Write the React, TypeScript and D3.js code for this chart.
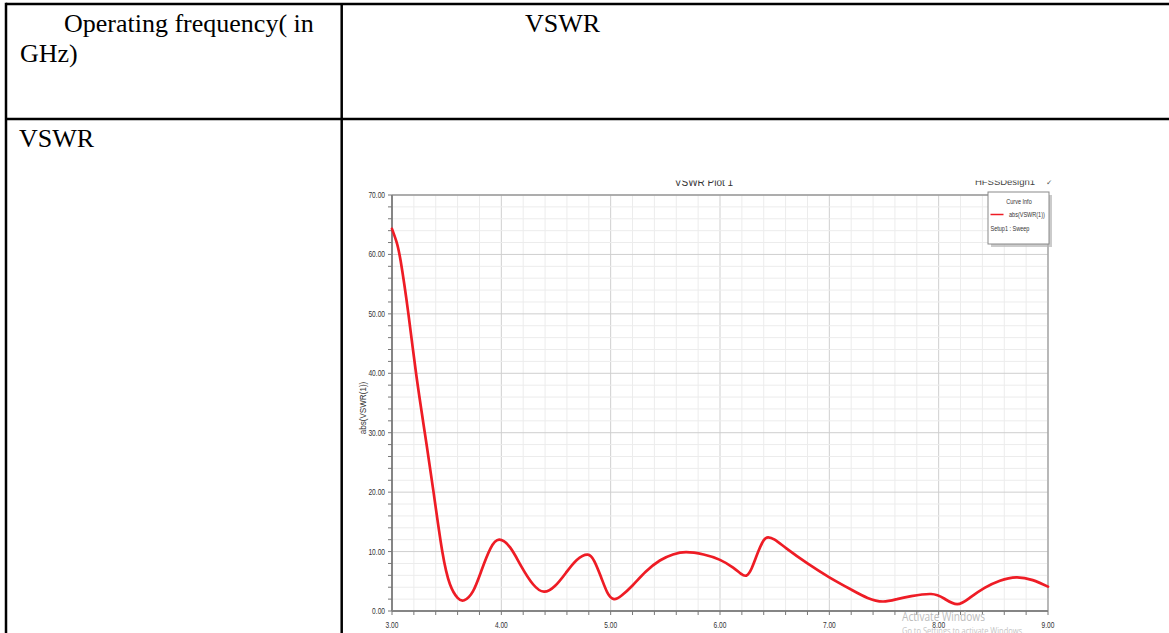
import React from "react";
import * as d3 from "d3";

// VSWR sweep of the antenna (frequency in GHz)
const freqGHz = [
  3.0, 3.04, 3.08, 3.15, 3.22, 3.3, 3.38, 3.46, 3.53, 3.6, 3.66, 3.74, 3.82, 3.9,
  3.98, 4.08, 4.18, 4.29, 4.39, 4.49, 4.59, 4.69, 4.79, 4.85, 4.91, 4.97, 5.03,
  5.1, 5.2, 5.32, 5.45, 5.57, 5.69, 5.85, 6.0, 6.12, 6.19, 6.24, 6.29, 6.35, 6.4,
  6.44, 6.5, 6.61, 6.8, 7.0, 7.2, 7.35, 7.49, 7.62, 7.75, 7.93, 8.05, 8.17, 8.29,
  8.42, 8.56, 8.71, 8.86, 9.0,
];
const vswr = [
  64.3, 62.2, 58.8, 50.0, 40.0, 30.0, 20.0, 10.0, 4.5, 2.2, 1.8, 3.3, 6.9, 10.5,
  12.0, 10.7, 7.6, 4.5, 3.25, 4.2, 6.4, 8.6, 9.5, 8.4, 5.8, 3.1, 2.0, 2.6, 4.3, 6.6,
  8.5, 9.5, 9.9, 9.5, 8.6, 7.3, 6.3, 5.95, 7.2, 10.0, 11.9, 12.4, 12.0, 10.5, 8.0,
  5.67, 3.6, 2.2, 1.6, 2.0, 2.5, 2.86, 2.1, 1.15, 2.3, 3.9, 5.1, 5.67, 5.2, 4.1,
];

const xTickLabels = ["3.00", "4.00", "5.00", "6.00", "7.00", "8.00", "9.00"];
const yTickLabels = ["0.00", "10.00", "20.00", "30.00", "40.00", "50.00", "60.00", "70.00"];

const W = 1169;
const H = 633;
const plot = { left: 392, right: 1048, top: 195, bottom: 611 };

const serif = "'Liberation Serif', 'Times New Roman', serif";
const sans = "'Liberation Sans', Arial, sans-serif";

export default function App() {
  const x = d3.scaleLinear().domain([3, 9]).range([plot.left, plot.right]);
  const y = d3.scaleLinear().domain([0, 70]).range([plot.bottom, plot.top]);

  const xMinor = d3.range(0, 31).map((i) => 3 + i * 0.2);
  const yMinor = d3.range(0, 36).map((i) => i * 2);

  const line = d3
    .line<number>()
    .x((_, i) => x(freqGHz[i]))
    .y((d) => y(d))
    .curve(d3.curveNatural);

  const isMajorX = (v: number) => Math.abs(v - Math.round(v)) < 1e-6;
  const isMajorY = (v: number) => v % 10 === 0;

  return (
    <svg
      width={W}
      height={H}
      style={{ position: "absolute", left: 0, top: 0, background: "#fff" }}
    >
      <defs>
        <clipPath id="chartClip">
          <rect x={343} y={180.5} width={826} height={H - 180.5} />
        </clipPath>
      </defs>

      {/* table frame */}
      <g stroke="#000" strokeWidth={2.5}>
        <line x1={6} y1={4} x2={W} y2={4} />
        <line x1={6} y1={2.8} x2={6} y2={H} />
        <line x1={341.7} y1={4} x2={341.7} y2={H} />
        <line x1={6} y1={119} x2={W} y2={119} />
      </g>
      <g fontFamily={serif} fontSize={26} fill="#000">
        <text x={64} y={32}>Operating frequency( in</text>
        <text x={20} y={62}>GHz)</text>
        <text x={525} y={32}>VSWR</text>
        <text x={19} y={147}>VSWR</text>
      </g>

      <g clipPath="url(#chartClip)">
        {/* title strip */}
        <text x={704} y={186} textAnchor="middle" fontFamily={sans} fontSize={10} fill="#333">
          VSWR Plot 1
        </text>
        <text x={1005} y={184.8} textAnchor="middle" fontFamily={sans} fontSize={9.5} fill="#444">
          HFSSDesign1
        </text>
        <text x={1049} y={185} textAnchor="middle" fontFamily={sans} fontSize={8} fill="#555">
          ✓
        </text>

        {/* grid */}
        <g>
          {xMinor.map((v) => (
            <line
              key={"gx" + v}
              x1={x(v)}
              x2={x(v)}
              y1={plot.top}
              y2={plot.bottom}
              stroke={isMajorX(v) ? "#cfcfcf" : "#ececec"}
              strokeWidth={1}
            />
          ))}
          {yMinor.map((v) => (
            <line
              key={"gy" + v}
              x1={plot.left}
              x2={plot.right}
              y1={y(v)}
              y2={y(v)}
              stroke={isMajorY(v) ? "#cfcfcf" : "#ececec"}
              strokeWidth={1}
            />
          ))}
        </g>

        {/* frame of the plot */}
        <line x1={plot.left} x2={plot.right} y1={plot.top} y2={plot.top} stroke="#9a9a9a" strokeWidth={1.5} />
        <line x1={plot.right} x2={plot.right} y1={plot.top} y2={plot.bottom} stroke="#9a9a9a" strokeWidth={1.2} />

        {/* axes */}
        <line x1={plot.left} x2={plot.right} y1={plot.bottom} y2={plot.bottom} stroke="#858585" strokeWidth={2} />
        <line x1={plot.left} x2={plot.left} y1={plot.top} y2={plot.bottom} stroke="#858585" strokeWidth={2} />
        {xMinor.map((v) => (
          <line
            key={"tx" + v}
            x1={x(v)}
            x2={x(v)}
            y1={plot.bottom}
            y2={plot.bottom + 4}
            stroke="#777"
            strokeWidth={1}
          />
        ))}
        {yMinor.map((v) => (
          <line
            key={"ty" + v}
            x1={plot.left - 4}
            x2={plot.left}
            y1={y(v)}
            y2={y(v)}
            stroke="#777"
            strokeWidth={1}
          />
        ))}

        <g fontFamily={sans} fontSize={8.5} fill="#333">
          {xTickLabels.map((t) => (
            <text
              key={"lx" + t}
              transform={`translate(${x(+t)},${plot.bottom + 17}) scale(0.78,1)`}
              textAnchor="middle"
            >
              {t}
            </text>
          ))}
          {yTickLabels.map((t) => (
            <text
              key={"ly" + t}
              transform={`translate(${plot.left - 7},${y(+t) + 3}) scale(0.78,1)`}
              textAnchor="end"
            >
              {t}
            </text>
          ))}
          <text
            transform={`translate(366,408) rotate(-90) scale(0.9,1)`}
            textAnchor="middle"
            fontSize={9}
          >
            abs(VSWR(1))
          </text>
        </g>

        {/* curve */}
        <path
          d={line(vswr) ?? ""}
          fill="none"
          stroke="#ee1c25"
          strokeWidth={2.7}
          strokeLinejoin="round"
          strokeLinecap="round"
        />

        {/* legend */}
        <rect x={991} y={195} width={61} height={52} fill="#b5b5b5" opacity={0.7} />
        <rect x={988} y={192} width={61} height={52} fill="#fff" stroke="#8a8a8a" strokeWidth={1} />
        <g fontFamily={sans} fontSize={6.5} fill="#333">
          <text transform="translate(1019,204) scale(0.85,1)" textAnchor="middle">
            Curve Info
          </text>
          <line x1={990.5} x2={1003.5} y1={214.5} y2={214.5} stroke="#ee1c25" strokeWidth={1.3} />
          <text transform="translate(1009,217) scale(0.85,1)">abs(VSWR(1))</text>
          <text transform="translate(990.5,230.5) scale(0.85,1)">Setup1 : Sweep</text>
        </g>

        {/* system watermark over the chart */}
        <text
          x={902}
          y={621}
          fontFamily={"'Open Sans', sans-serif"}
          fontSize={12.5}
          fill="#bdbdbd"
          textLength={83}
          lengthAdjust="spacingAndGlyphs"
        >
          Activate Windows
        </text>
        <text
          x={902}
          y={634}
          fontFamily={"'Open Sans', sans-serif"}
          fontSize={9}
          fill="#c4c4c4"
          textLength={122}
          lengthAdjust="spacingAndGlyphs"
        >
          Go to Settings to activate Windows.
        </text>
      </g>
    </svg>
  );
}
